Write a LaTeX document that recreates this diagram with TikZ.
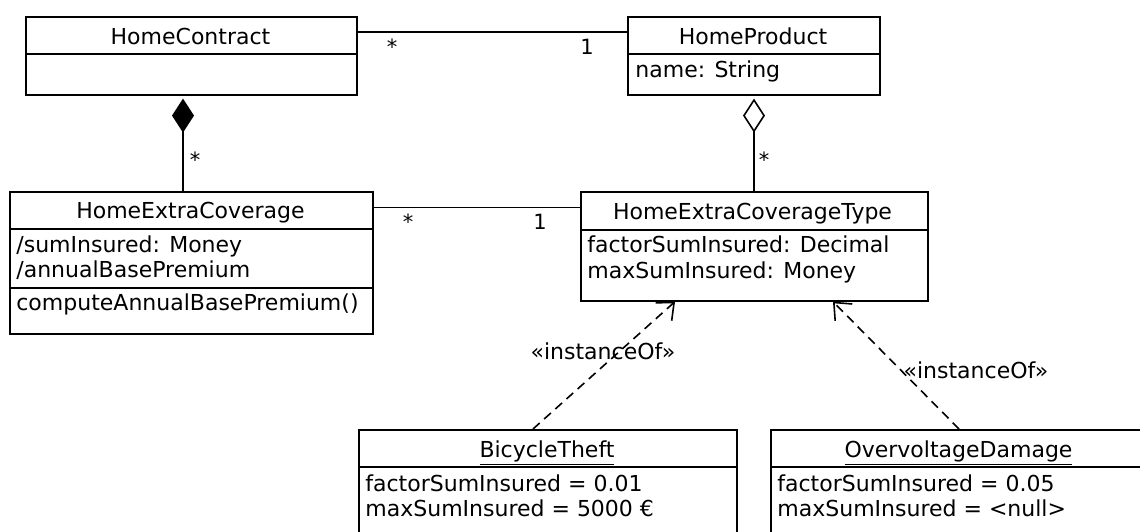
\documentclass[tikz,border=0pt]{standalone}
\usepackage{fontspec}
\setmainfont{DejaVu Sans}
\usetikzlibrary{arrows.meta}
\begin{document}
\begin{tikzpicture}[x=0.5pt,y=-0.5pt,
  box/.style={draw, line width=0.8pt, rectangle, inner sep=0pt, anchor=north west},
  txt/.style={inner sep=0pt, anchor=base, font=\fontsize{11}{13}\selectfont},
  ltxt/.style={txt, anchor=base west},
  mult/.style={txt, font=\fontsize{10.5}{12}\selectfont},
  sep/.style={line width=0.8pt},
  conn/.style={line width=0.8pt},
  comp/.style={conn, {Diamond[length=17pt,width=11pt]}-, shorten <=1.5pt},
  aggr/.style={conn, {Diamond[open,fill=white,length=17pt,width=11pt]}-, shorten <=1.5pt},
  dep/.style={conn, dash pattern=on 4.5pt off 3pt, -{Straight Barb[length=7pt,width=12pt]}},
]
\useasboundingbox (0,0) rectangle (1140,531);
\clip (0,0) rectangle (1140,531);

% boxes
\node[box, minimum width=165.5pt, minimum height=39pt] (hc) at (25,16) {};
\node[box, minimum width=126pt, minimum height=39pt] (hp) at (627,16) {};
\node[box, minimum width=181.5pt, minimum height=71pt] (hec) at (9,191) {};
\node[box, minimum width=173.5pt, minimum height=54.5pt] (hect) at (580,191) {};
\node[box, minimum width=189pt, minimum height=65pt] (bt) at (358,429) {};
\node[box, minimum width=188.5pt, minimum height=65pt] (od) at (770,429) {};

% separators
\draw[sep] (hc.west |- 0,54) -- (hc.east |- 0,54);
\draw[sep] (hp.west |- 0,54) -- (hp.east |- 0,54);
\draw[sep] (hec.west |- 0,229) -- (hec.east |- 0,229);
\draw[sep] (hec.west |- 0,288) -- (hec.east |- 0,288);
\draw[sep] (hect.west |- 0,230) -- (hect.east |- 0,230);
\draw[sep] (bt.west |- 0,467) -- (bt.east |- 0,467);
\draw[sep] (od.west |- 0,467) -- (od.east |- 0,467);

% texts
\node[txt] (hct) at (190.5,44) {HomeContract};
\node[txt] (hpt) at (753,44) {HomeProduct};
\node[ltxt] (hpa) at (635,77) {name: String};
\node[txt] (hect1) at (190.5,218) {HomeExtraCoverage};
\node[ltxt] (heca1) at (16,252) {/sumInsured: Money};
\node[ltxt] (heca2) at (16,277) {/annualBasePremium};
\node[ltxt] (hecm) at (16,310) {computeAnnualBasePremium()};
\node[txt] (hectt) at (752.5,219) {HomeExtraCoverageType};
\node[ltxt] (hecta1) at (587,252) {factorSumInsured: Decimal};
\node[ltxt] (hecta2) at (587,278) {maxSumInsured: Money};
\node[txt] (btt) at (547,457) {\underline{BicycleTheft}};
\node[ltxt] (bta1) at (365,491) {factorSumInsured = 0.01};
\node[ltxt] (bta2) at (365,516) {maxSumInsured = 5000 €};
\node[txt] (odt) at (958.5,457) {\underline{OvervoltageDamage}};
\node[ltxt] (oda1) at (777,491) {factorSumInsured = 0.05};
\node[ltxt] (oda2) at (777,516) {maxSumInsured = <null>};

% connectors
\draw[conn] (hc.east |- 0,32) -- (hp.west |- 0,32);
\node[mult] (m1) at (392,54) {*};
\node[mult] (m2) at (587,54) {1};

\draw[comp] (hc.south -| 183,0) -- (hec.north -| 183,0);
\node[mult] (m3) at (195,167) {*};

\draw[aggr] (hp.south -| 754,0) -- (hect.north -| 754,0);
\node[mult] (m4) at (764,167) {*};

\draw[conn] (hec.east |- 0,207.5) -- (hect.west |- 0,207.5);
\node[mult] (m5) at (408,229) {*};
\node[mult] (m6) at (540,229) {1};

\draw[dep] (bt.north -| 533,0) -- (hect.south -| 675,0);
\node[txt] (io1) at (603,359) {«instanceOf»};
\draw[dep] (od.north -| 959,0) -- (hect.south -| 833,0);
\node[txt] (io2) at (976,378) {«instanceOf»};
\end{tikzpicture}
\end{document}
